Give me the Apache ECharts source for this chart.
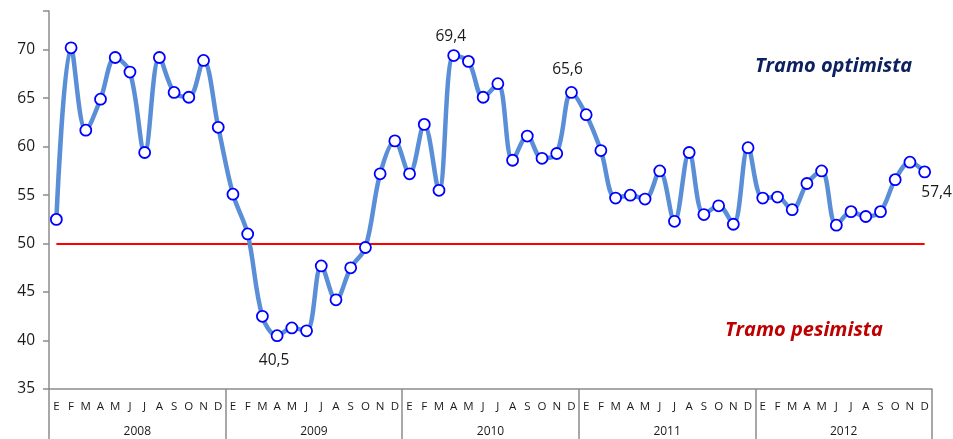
<!DOCTYPE html>
<html>
<head>
<meta charset="utf-8">
<script src="https://cdn.jsdelivr.net/npm/echarts@6/dist/echarts.min.js"></script>
<style>
  html, body { margin: 0; padding: 0; background: #fff; }
  #chart { width: 953px; height: 439px; }
</style>
</head>
<body>
<div id="chart"></div>
<script>
var years = ["2008", "2009", "2010", "2011", "2012"];
var monthLetters = ["E", "F", "M", "A", "M", "J", "J", "A", "S", "O", "N", "D"];

// valores mensuales
var v2008 = [52.5, 70.2, 61.7, 64.9, 69.2, 67.7, 59.4, 69.2, 65.6, 65.1, 68.9, 62.0];
var v2009 = [55.1, 51.0, 42.5, 40.5, 41.3, 41.0, 47.7, 44.2, 47.5, 49.6, 57.2, 60.6];
var v2010 = [57.2, 62.3, 55.5, 69.4, 68.8, 65.1, 66.5, 58.6, 61.1, 58.8, 59.3, 65.6];
var v2011 = [63.3, 59.6, 54.7, 55.0, 54.6, 57.5, 52.3, 59.4, 53.0, 53.9, 52.0, 59.9];
var v2012 = [54.7, 54.8, 53.5, 56.2, 57.5, 51.9, 53.3, 52.8, 53.3, 56.6, 58.4, 57.4];

var threshold = 50;
var yTicks = [35, 40, 45, 50, 55, 60, 65, 70];

var values = [].concat(v2008, v2009, v2010, v2011, v2012);
var categories = [];
years.forEach(function (y) {
    monthLetters.forEach(function (m, i) {
        categories.push(y + "-" + (i + 1));
    });
});

// puntos con etiqueta: índice -> posición
var labelled = {
    15: { position: "bottom", distance: 10, offset: [-3, 0] },
    27: { position: "top", distance: 5, offset: [-3, 0] },
    35: { position: "top", distance: 8, offset: [-4, 0] },
    59: { position: "bottom", distance: 6, offset: [12, 0] }
};

var seriesData = values.map(function (v, i) {
    var item = { value: v };
    if (labelled[i]) {
        item.label = {
            show: true,
            position: labelled[i].position,
            distance: labelled[i].distance,
            offset: labelled[i].offset,
            formatter: function (p) { return String(p.value).replace(".", ","); },
            fontFamily: "Open Sans",
            fontSize: 15.5,
            color: "#1a1a1a"
        };
    }
    return item;
});

var chart = echarts.init(document.getElementById("chart"));

chart.setOption({
    animation: false,
    grid: { left: 49, right: 21, top: 11, bottom: 50 },
    xAxis: [{
        type: "category",
        data: categories,
        boundaryGap: true,
        axisLine: { lineStyle: { color: "#8c8c8c", width: 1.5 } },
        axisTick: { show: false },
        axisLabel: {
            interval: 0,
            margin: 12,
            fontFamily: "Open Sans",
            fontSize: 11.5,
            color: "#1a1a1a",
            formatter: function (val) {
                var m = parseInt(val.split("-")[1], 10);
                return monthLetters[m - 1];
            }
        }
    }, {
        type: "category",
        data: years,
        position: "bottom",
        boundaryGap: true,
        axisLine: { show: false },
        axisTick: { show: true, length: 52, interval: 0, lineStyle: { color: "#8c8c8c", width: 1.5 } },
        axisLabel: {
            interval: 0,
            margin: 37,
            fontFamily: "Open Sans",
            fontSize: 12,
            color: "#1a1a1a"
        }
    }],
    yAxis: {
        type: "value",
        min: 35,
        max: 74,
        interval: 5,
        splitLine: { show: false },
        axisLine: { show: true, lineStyle: { color: "#8c8c8c", width: 1.5 } },
        axisTick: { show: true, length: 6, lineStyle: { color: "#8c8c8c", width: 1.5 } },
        axisLabel: {
            margin: 14,
            fontFamily: "Open Sans",
            fontSize: 15.5,
            color: "#1a1a1a",
            formatter: function (v) {
                return yTicks.indexOf(v) >= 0 ? String(v) : "";
            }
        }
    },
    series: [{
        type: "line",
        data: seriesData,
        smooth: 0.35,
        symbol: "circle",
        symbolSize: 11,
        z: 5,
        lineStyle: { color: "#5a8fd8", width: 4.5 },
        itemStyle: { color: "#ffffff", borderColor: "#0000ff", borderWidth: 1.8 },
        markLine: {
            silent: true,
            symbol: "none",
            label: { show: false },
            lineStyle: { color: "#ff0000", width: 2, type: "solid" },
            data: [[
                { coord: [categories[0], threshold] },
                { coord: [categories[categories.length - 1], threshold] }
            ]]
        }
    }],
    graphic: [{
        type: "text",
        left: 755,
        top: 56,
        style: {
            text: "Tramo optimista",
            fontFamily: "Open Sans",
            fontStyle: "italic",
            fontWeight: "bold",
            fontSize: 20,
            fill: "#0d2160"
        }
    }, {
        type: "text",
        left: 725,
        top: 320,
        style: {
            text: "Tramo pesimista",
            fontFamily: "Open Sans",
            fontStyle: "italic",
            fontWeight: "bold",
            fontSize: 20,
            fill: "#c00000"
        }
    }]
});
</script>
</body>
</html>
